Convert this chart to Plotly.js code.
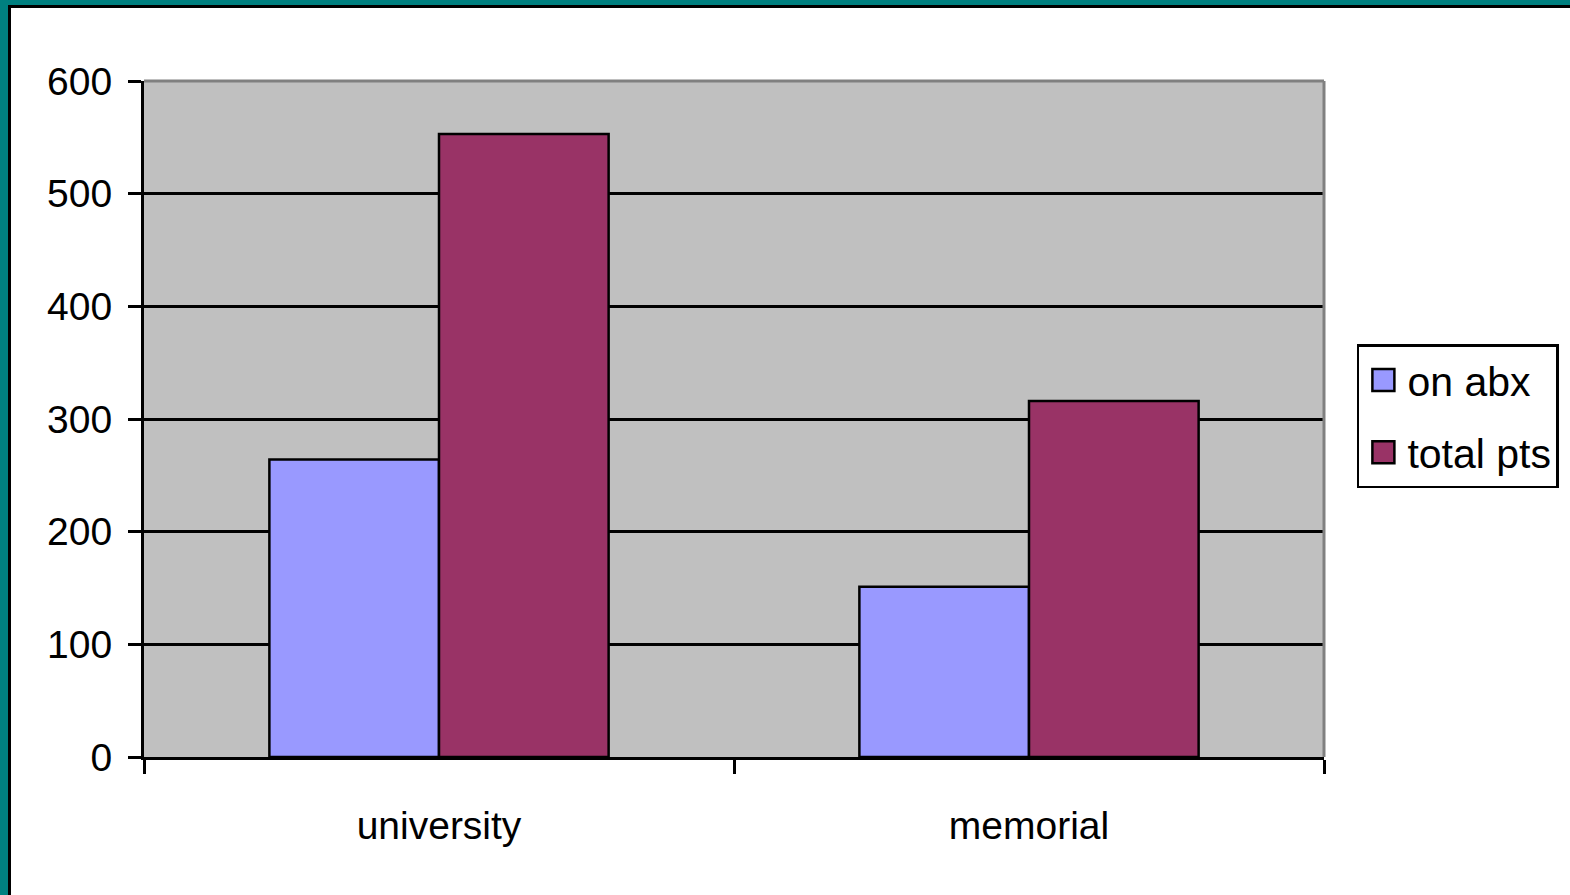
<!DOCTYPE html>
<html>
<head>
<meta charset="utf-8">
<script src="https://cdn.plot.ly/plotly-3.0.1.min.js"></script>
<style>
  html, body { margin: 0; padding: 0; background: #ffffff; }
  #wrap { position: relative; width: 1570px; height: 895px; overflow: hidden; }
  #chart { position: absolute; left: 0; top: 0; width: 1570px; height: 895px; }
  .frame { position: absolute; pointer-events: none; }
  #teal-top { left: 0; top: 0; width: 1570px; height: 5px; background: #008080; }
  #black-top { left: 8px; top: 5px; width: 1562px; height: 3px; background: #000000; }
  #teal-left { left: 0; top: 0; width: 8px; height: 895px; background: #008080; }
  #black-left { left: 8px; top: 5px; width: 3px; height: 890px; background: #000000; }
</style>
</head>
<body>
<div id="wrap">
  <div id="chart"></div>
  <div class="frame" id="teal-top"></div>
  <div class="frame" id="black-top"></div>
  <div class="frame" id="teal-left"></div>
  <div class="frame" id="black-left"></div>
</div>
<script>
// Hospitals compared
const sites = ['university', 'memorial'];
// Patients on antibiotics and total patients per hospital
const onAbx = [264, 151];
const totalPts = [553, 316];
// Value axis ticks
const yTicks = [0, 100, 200, 300, 400, 500, 600];

const fontFamily = 'Liberation Sans, Arial, sans-serif';

const traces = [
  {
    type: 'bar',
    name: 'on abx',
    x: sites,
    y: onAbx,
    legendgroup: 'a',
    marker: { color: '#9999FF', line: { color: '#000000', width: 2.5 } },
    hoverinfo: 'x+y+name'
  },
  {
    type: 'bar',
    name: 'total pts',
    x: sites,
    y: totalPts,
    legendgroup: 'b',
    marker: { color: '#993366', line: { color: '#000000', width: 2.5 } },
    hoverinfo: 'x+y+name'
  }
];

const layout = {
  width: 1570,
  height: 895,
  margin: { l: 144, r: 245, t: 81, b: 138, pad: 0 },
  paper_bgcolor: '#ffffff',
  plot_bgcolor: '#C0C0C0',
  barmode: 'group',
  bargap: 0.425,
  bargroupgap: 0,
  font: { family: fontFamily, color: '#000000', size: 39 },
  showlegend: true,
  legend: {
    x: 1.027,
    xanchor: 'left',
    y: 0.504,
    yanchor: 'middle',
    bgcolor: '#ffffff',
    bordercolor: '#000000',
    borderwidth: 2.5,
    font: { family: fontFamily, size: 41, color: '#000000' },
    traceorder: 'grouped',
    tracegroupgap: 16,
    itemwidth: 38
  },
  xaxis: {
    type: 'category',
    showline: true,
    linecolor: '#000000',
    linewidth: 3,
    ticks: 'outside',
    tickson: 'boundaries',
    ticklen: 14,
    tickwidth: 3,
    tickcolor: '#000000',
    showgrid: false,
    zeroline: false,
    tickfont: { family: fontFamily, size: 39, color: '#000000' },
    ticklabelstandoff: 32
  },
  yaxis: {
    range: [0, 600],
    tickvals: yTicks,
    ticktext: yTicks.map(String),
    showline: true,
    linecolor: '#000000',
    linewidth: 3,
    ticks: 'outside',
    ticklen: 13,
    tickwidth: 3,
    tickcolor: '#000000',
    showgrid: true,
    gridcolor: '#000000',
    gridwidth: 3,
    zeroline: false,
    tickfont: { family: fontFamily, size: 39, color: '#000000' },
    ticklabelstandoff: 8
  },
  shapes: [
    // grey frame on the top and right of the plotting area
    { type: 'line', xref: 'paper', yref: 'paper', x0: 0, x1: 1, y0: 1, y1: 1,
      line: { color: '#808080', width: 3 }, layer: 'above' },
    { type: 'line', xref: 'paper', yref: 'paper', x0: 1, x1: 1, y0: 0, y1: 1,
      line: { color: '#808080', width: 3 }, layer: 'above' }
  ]
};

Plotly.newPlot('chart', traces, layout, { displayModeBar: false, responsive: false }).then(function (gd) {
  // enlarge the legend swatches to a bigger square
  gd.querySelectorAll('.legend .legendpoints path').forEach(function (p) {
    p.setAttribute('d', 'M11,11H-11V-11H11Z');
    p.style.strokeWidth = '2.5px';
  });
});
</script>
</body>
</html>
